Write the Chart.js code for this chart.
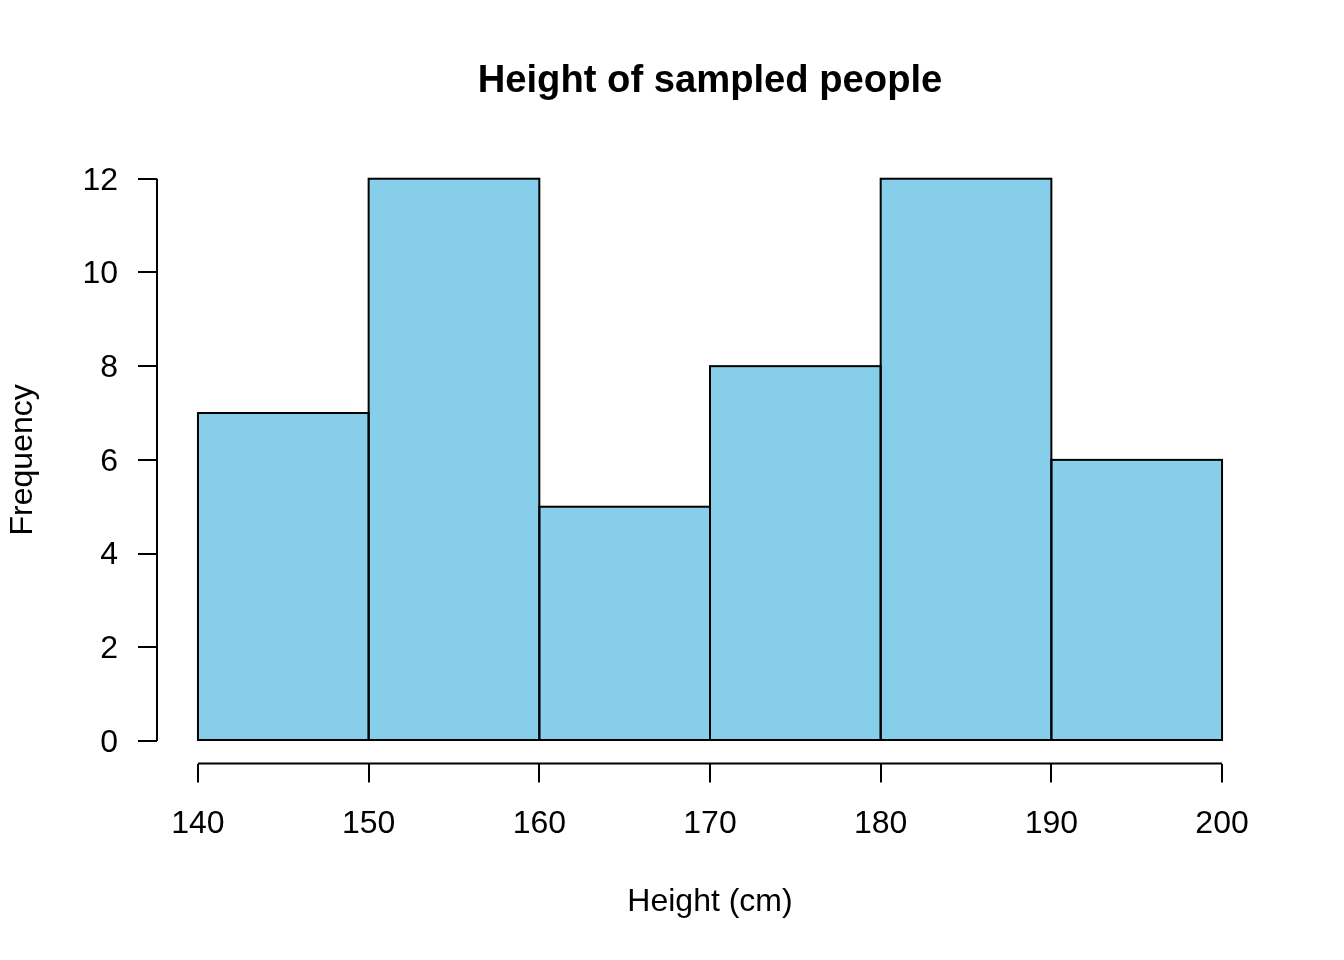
<!DOCTYPE html>
<html lang="en">
<head>
    <meta charset="UTF-8">
    <title>Height of sampled people</title>
    <style>
        body {
            margin: 0;
            padding: 0;
            background: #fff;
        }
        canvas {
            display: block;
        }
    </style>
</head>
<body>
    <canvas id="hist" width="1344" height="960"></canvas>
    <script src="https://cdn.jsdelivr.net/npm/chart.js"></script>
    <script>
        // histogram data (bin centres and counts)
        const binCentres = [145, 155, 165, 175, 185, 195];
        const counts = [7, 12, 5, 8, 12, 6];
        const xTickValues = [140, 150, 160, 170, 180, 190, 200];
        const yTickValues = [0, 2, 4, 6, 8, 10, 12];

        const FONT = "'Liberation Sans', Arial, sans-serif";
        Chart.defaults.font.family = FONT;
        Chart.defaults.color = '#000';

        // R style detached axis lines + bar outlines stroked on the edges
        const rAxes = {
            id: 'rAxes',
            afterDatasetsDraw(chart) {
                const { ctx, chartArea, scales } = chart;
                const xs = scales.x, ys = scales.y;
                ctx.save();
                ctx.strokeStyle = '#000';
                ctx.lineWidth = 2;

                chart.getDatasetMeta(0).data.forEach(bar => {
                    const p = bar.getProps(['x', 'y', 'base', 'width'], true);
                    ctx.strokeRect(p.x - p.width / 2, p.y, p.width, p.base - p.y);
                });

                ctx.beginPath();
                ctx.moveTo(chartArea.left, ys.getPixelForValue(yTickValues[0]));
                ctx.lineTo(chartArea.left, ys.getPixelForValue(yTickValues[yTickValues.length - 1]));
                ctx.moveTo(xs.getPixelForValue(xTickValues[0]), chartArea.bottom);
                ctx.lineTo(xs.getPixelForValue(xTickValues[xTickValues.length - 1]), chartArea.bottom);
                ctx.stroke();
                ctx.restore();
            }
        };

        new Chart(document.getElementById('hist'), {
            type: 'bar',
            data: {
                datasets: [{
                    data: binCentres.map((x, i) => ({ x: x, y: counts[i] })),
                    backgroundColor: '#87CEEB',
                    borderWidth: 0,
                    inflateAmount: 0,
                    barPercentage: 1,
                    categoryPercentage: 1
                }]
            },
            options: {
                responsive: false,
                devicePixelRatio: 1,
                animation: false,
                layout: { padding: { left: 0, right: 81, top: 0, bottom: 0 } },
                plugins: {
                    legend: { display: false },
                    tooltip: { enabled: false },
                    title: {
                        display: true,
                        text: 'Height of sampled people',
                        fullSize: false,
                        color: '#000',
                        font: { size: 38.2, weight: 'bold', family: FONT },
                        padding: { top: 58.7, bottom: 51.7 }
                    }
                },
                scales: {
                    x: {
                        type: 'linear',
                        min: 137.6,
                        max: 202.4,
                        offset: false,
                        afterBuildTicks: s => { s.ticks = xTickValues.map(v => ({ value: v })); },
                        afterFit: s => { s.height = 196.5; },
                        border: { display: false },
                        grid: {
                            offset: false,
                            drawOnChartArea: false,
                            drawTicks: true,
                            tickLength: 19,
                            color: '#000',
                            lineWidth: 2
                        },
                        ticks: {
                            autoSkip: false,
                            maxRotation: 0,
                            padding: 22.5,
                            color: '#000',
                            font: { size: 32 }
                        },
                        title: {
                            display: true,
                            text: 'Height (cm)',
                            color: '#000',
                            font: { size: 32 },
                            padding: { top: 0, bottom: 38.8 }
                        }
                    },
                    y: {
                        min: -0.48,
                        max: 12.48,
                        afterBuildTicks: s => { s.ticks = yTickValues.map(v => ({ value: v })); },
                        afterFit: s => { s.width = 157; },
                        border: { display: false },
                        grid: {
                            drawOnChartArea: false,
                            drawTicks: true,
                            tickLength: 19,
                            color: '#000',
                            lineWidth: 2
                        },
                        ticks: {
                            padding: 20,
                            labelOffset: 2,
                            color: '#000',
                            font: { size: 32 }
                        },
                        title: {
                            display: true,
                            text: 'Frequency',
                            color: '#000',
                            font: { size: 32 },
                            padding: { top: 4.3, bottom: 0 }
                        }
                    }
                }
            },
            plugins: [rAxes]
        });
    </script>
</body>
</html>
